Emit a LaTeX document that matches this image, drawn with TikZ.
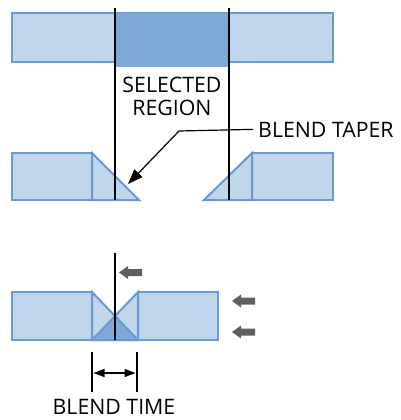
\documentclass[tikz,border=0pt]{standalone}
\usepackage{fontspec}
\setmainfont{Open Sans}
\usetikzlibrary{arrows.meta}
\definecolor{lb}{HTML}{C0D6ED}
\definecolor{bd}{HTML}{6A98D0}
\definecolor{db}{HTML}{7FA8D9}
\definecolor{ga}{HTML}{5F5F5F}
\begin{document}
\begin{tikzpicture}[x=1pt,y=-1pt,
  blockshape/.style={fill=lb,draw=bd,line width=2pt,line join=miter},
  outl/.style={draw=bd,line width=2pt,line join=miter},
  lbl/.style={font=\fontsize{21.3}{23}\selectfont,inner sep=0pt,text=black},
  guide/.style={draw=black,line width=1.1pt},
  garrow/.pic={\fill[ga] (0,0) -- (9,-6.5) -- (9,-3.5) -- (23,-3.5) -- (23,3.5) -- (9,3.5) -- (9,6.5) -- cycle;}]
\useasboundingbox (0,0) rectangle (401,420);
% top bar
\draw[blockshape] (12,13) rectangle (333,62);
\fill[db] (115,13) rectangle (229,67);
% middle pieces
\draw[blockshape] (12,153) rectangle (92,200);
\draw[blockshape] (92,153) -- (139,200) -- (92,200) -- cycle;
\draw[blockshape] (252,153) rectangle (333,200);
\draw[blockshape] (252,153) -- (204,200) -- (252,200) -- cycle;
% region guides
\coordinate (gl1) at (115,8); \coordinate (gl2) at (115,200);
\coordinate (gr1) at (229,8); \coordinate (gr2) at (229,200);
\draw[guide] (gl1) -- (gl2);
\draw[guide] (gr1) -- (gr2);
% labels
\node[lbl,align=center,anchor=base] (sel) at (172,115) {SELECTED\\REGION};
\node[lbl,anchor=base west] (taper) at (258,137) {BLEND TAPER};
\coordinate (bend) at (179,131);
\coordinate (tip) at (128,184);
\draw[line width=1.2pt,-{Triangle[length=15pt,width=11pt]}] ([xshift=-5pt]taper.west) -- (bend) -- (tip);
% bottom pieces
\draw[blockshape] (12,292) rectangle (92,340);
\draw[blockshape] (138,292) rectangle (218,340);
\fill[lb] (92,292) -- (138,340) -- (92,340) -- cycle;
\fill[lb] (138,292) -- (92,340) -- (138,340) -- cycle;
\fill[db] (92,340) -- (115,316) -- (138,340) -- cycle;
\draw[outl] (92,292) -- (138,340) -- (92,340) -- cycle;
\draw[outl] (138,292) -- (92,340) -- (138,340) -- cycle;
\coordinate (bl1) at (115,253); \coordinate (bl2) at (115,340);
\draw[guide] (bl1) -- (bl2);
% gray arrows
\pic at (119,272.5) {garrow};
\pic at (232,301) {garrow};
\pic at (232,332) {garrow};
% blend time dimension
\coordinate (t1a) at (92,352); \coordinate (t1b) at (92,392);
\coordinate (t2a) at (137,352); \coordinate (t2b) at (137,392);
\draw[guide] (t1a) -- (t1b);
\draw[guide] (t2a) -- (t2b);
\coordinate (d1) at (93.5,373); \coordinate (d2) at (135.5,373);
\draw[line width=1.2pt,{Triangle[length=11pt,width=8pt]}-{Triangle[length=11pt,width=8pt]}] (d1) -- (d2);
\node[lbl,anchor=base] (btime) at (114,414) {BLEND TIME};
\end{tikzpicture}
\end{document}
